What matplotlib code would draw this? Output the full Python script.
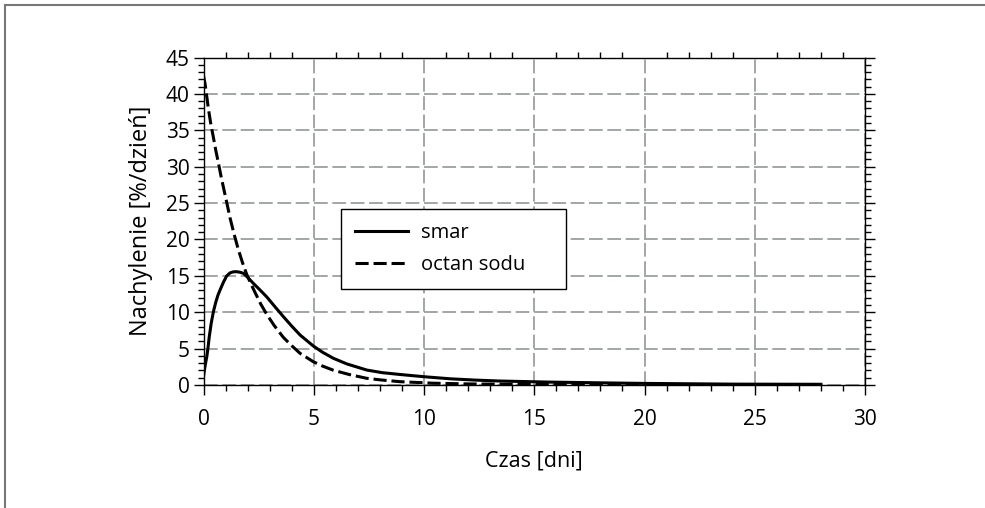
import numpy as np
import matplotlib
matplotlib.use('Agg')
import matplotlib.pyplot as plt
from matplotlib.lines import Line2D
from matplotlib.ticker import MultipleLocator

# values
smar_t = [0, 0.05, 0.1, 0.15, 0.2, 0.26, 0.35, 0.45, 0.55, 0.65, 0.75, 0.9, 1.05, 1.2,
          1.35, 1.5, 1.65, 1.81, 2.0, 2.26, 2.55, 2.87, 3.2, 3.62, 4.0, 4.38, 4.98, 5.4,
          5.89, 6.5, 7.4, 8.1, 8.9, 10.0, 11.2, 12.3, 13.4, 15.7, 18.0, 20.0, 24.0, 28.0]
smar_v = [1.2, 2.2, 3.1, 3.9, 5.0, 6.6, 8.5, 10.1, 11.3, 12.3, 13.05, 14.1, 14.98, 15.4,
          15.55, 15.57, 15.5, 15.35, 14.8, 13.97, 13.1, 12.1, 10.9, 9.4, 8.1, 6.87, 5.36, 4.5,
          3.67, 2.9, 2.06, 1.7, 1.45, 1.14, 0.85, 0.68, 0.55, 0.4, 0.3, 0.22, 0.12, 0.1]

octan_t = [0, 0.07, 0.15, 0.22, 0.33, 0.45, 0.56, 0.67, 0.8, 0.93, 1.06, 1.2, 1.39, 1.58,
           1.77, 1.96, 2.15, 2.34, 2.6, 2.87, 3.2, 3.62, 4.0, 4.38, 4.98, 5.4, 5.89, 6.6,
           7.4, 8.1, 8.9, 10.4, 12.0, 14.0, 16.0, 18.0, 20.2]
octan_v = [42.5, 41.4, 39.6, 38.0, 35.9, 34.0, 32.2, 30.6, 28.6, 26.8, 25.0, 23.0, 20.7, 18.6,
           16.8, 15.2, 13.9, 12.7, 11.1, 9.7, 8.2, 6.55, 5.4, 4.35, 3.2, 2.6, 2.03, 1.45,
           0.92, 0.68, 0.46, 0.25, 0.15, 0.1, 0.07, 0.05, 0.04]

labels = ['smar', 'octan sodu']

plt.rcParams['font.family'] = ['Open Sans', 'DejaVu Sans']

fig = plt.figure(figsize=(9.85, 5.08), dpi=100)
ax = fig.add_axes([0.2066, 0.2421, 0.6716, 0.6447])

ax.plot(smar_t, smar_v, color='black', lw=2.2, label=labels[0])
ax.plot(octan_t, octan_v, color='black', lw=2.2, linestyle=(0, (4.3, 1.6)), label=labels[1])

ax.set_xlim(0, 30)
ax.set_ylim(0, 45)
ax.xaxis.set_major_locator(MultipleLocator(5))
ax.xaxis.set_minor_locator(MultipleLocator(1))
ax.yaxis.set_major_locator(MultipleLocator(5))
ax.yaxis.set_minor_locator(MultipleLocator(1))

ax.grid(True, which='major', color='#8a908a', lw=1.1, linestyle=(0, (9, 3)))
ax.set_axisbelow(True)

ax.tick_params(which='both', direction='out', color='black', width=1, labelsize=15)
ax.tick_params(which='major', length=7)
ax.tick_params(which='minor', length=4)
ax.tick_params(axis='x', which='minor', top=True)
ax.tick_params(axis='y', which='both', right=True)
ax.tick_params(axis='x', pad=10)
ax.tick_params(axis='y', pad=3)
for s in ax.spines.values():
    s.set_linewidth(1)

ax.set_xlabel('Czas [dni]', fontsize=15.5, labelpad=15)
ax.set_ylabel('Nachylenie [%/dzień]', fontsize=17, labelpad=9)

leg = ax.legend(loc='lower left', bbox_to_anchor=(0.208, 0.293, 0.340, 0.247), mode='expand',
                fontsize=14.5, frameon=True, fancybox=False, edgecolor='black', framealpha=1,
                handlelength=2.6, handletextpad=0.65, labelspacing=0.6, borderpad=0.7,
                borderaxespad=0)
leg.get_frame().set_linewidth(1)

# grey frame around the figure (only top and left edges visible)
fig.add_artist(Line2D([4.5 / 985, 4.5 / 985], [0, 1 - 4.5 / 508], color='#777777', lw=1.5,
                      transform=fig.transFigure))
fig.add_artist(Line2D([4.5 / 985, 1], [1 - 4.5 / 508, 1 - 4.5 / 508], color='#777777', lw=1.5,
                      transform=fig.transFigure))

fig.savefig('out.png', dpi=100)
